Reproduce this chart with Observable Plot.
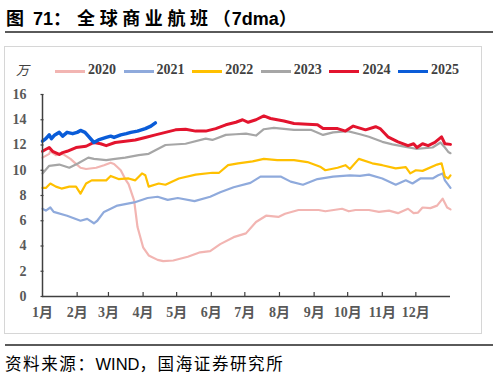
<!DOCTYPE html>
<html>
<head>
<meta charset="utf-8">
<script src="https://cdn.jsdelivr.net/npm/d3@7"></script>
<script src="https://cdn.jsdelivr.net/npm/@observablehq/plot@0.6"></script>
<style>
  body { margin: 0; background: #fff; }
  #page { position: relative; width: 498px; height: 375px; background: #fff; overflow: hidden; }
  .abs { position: absolute; }
  .legtxt { font-family: "Liberation Serif", "Noto Sans CJK SC", serif; font-weight: bold; font-size: 14px; color: #404040; }
  .t-cjk { letter-spacing: 4.6px; }
  .t-lat { letter-spacing: 0; }
  .s-cjk { letter-spacing: 1.6px; }
</style>
</head>
<body>
<div id="page">
  <div class="abs" style="left:6px;top:4px;font-family:'Liberation Sans','Noto Sans CJK SC',sans-serif;font-weight:bold;font-size:18px;color:#000;white-space:nowrap;"><span style="letter-spacing:2px">图 </span><span class="t-lat">71</span><span style="letter-spacing:6px">：</span><span class="t-cjk">全球商业航班</span><span style="letter-spacing:1px">（</span><span class="t-lat">7dma</span><span>）</span></div>
  <div class="abs" style="left:5px;top:31px;width:488px;height:2px;background:#5a5a5a;"></div>
  <div class="abs" style="left:4px;top:46px;width:478px;height:288px;border:1px solid #d6d6d6;box-sizing:border-box;"></div>
  <div id="chart" class="abs" style="left:0;top:46px;"></div>
  <div id="legend"></div>
  <div class="abs" style="left:16px;top:60px;font-family:'Liberation Serif','Noto Sans CJK SC',serif;font-style:italic;font-size:13px;color:#404040;">万</div>
  <div class="abs" style="left:5px;top:344px;width:488px;height:2px;background:#5a5a5a;"></div>
  <div class="abs" style="left:5px;top:351px;font-family:'Liberation Sans','Noto Sans CJK SC',sans-serif;font-size:16.5px;color:#000;white-space:nowrap;"><span class="s-cjk">资料来源：</span><span>WIND</span><span class="s-cjk">，国海证券研究所</span></div>
</div>
<script>
// ---- data (day of year, value in 万 flights) ----
const years = ["2020", "2021", "2022", "2023", "2024", "2025"];
const colors = ["#F2B5B2", "#8FAADC", "#FFC000", "#A6A6A6", "#E3142E", "#0A5CD8"];
const widths = [2.2, 2.2, 2.2, 2.2, 3, 3.5];

const day2020 = [0,6,7,12,18,25,30,34,39,48,55,61,64,70,74,77,82,85,90,95,103,108,117,130,141,150,159,171,182,191,200,211,217,229,247,253,268,274,280,292,301,310,318,327,332,336,340,347,353,358,362,365];
const val2020 = [11.0,11.3,11.5,11.2,11.3,10.9,10.5,10.2,10.1,10.2,10.4,10.6,10.5,10.0,9.3,8.9,7.6,5.5,3.9,3.25,2.9,2.8,2.85,3.15,3.5,3.6,4.15,4.7,5.0,5.9,6.4,6.3,6.55,6.85,6.85,6.75,6.95,6.75,6.85,6.85,6.7,6.8,6.6,6.95,6.6,6.65,7.05,7.0,7.2,7.75,7.05,6.9];

const day2021 = [0,3,7,10,22,34,40,46,49,55,67,82,94,103,112,121,136,150,159,171,186,195,213,222,233,246,260,275,284,292,304,316,325,331,338,349,354,358,360,365];
const val2021 = [6.95,6.8,7.05,6.7,6.4,6.0,6.15,5.8,6.0,6.7,7.2,7.45,7.8,7.9,7.65,7.8,7.55,7.9,8.25,8.65,9.0,9.5,9.5,9.1,8.85,9.3,9.5,9.6,9.55,9.65,9.35,8.85,9.2,8.95,9.35,9.35,9.6,9.75,9.2,8.6];

const day2022 = [0,3,7,12,17,24,30,34,39,44,57,61,68,77,83,89,92,95,104,110,122,137,152,158,166,175,188,198,210,225,237,249,253,264,271,275,283,295,304,316,325,329,334,340,353,357,360,363,365];
const val2022 = [8.6,8.6,8.95,8.7,8.55,8.7,8.7,8.15,8.95,9.2,9.2,9.55,9.3,9.35,9.2,9.75,9.6,8.7,8.95,8.85,9.35,9.65,9.8,9.8,10.4,10.55,10.7,10.9,10.8,10.8,10.65,10.25,10.0,10.2,10.4,10.1,10.9,10.55,10.4,10.15,10.25,9.75,10.0,9.95,10.45,10.55,9.5,9.35,9.6];

const day2023 = [0,6,15,24,32,41,46,57,65,74,86,95,110,128,146,152,164,173,182,191,198,207,225,240,251,260,273,284,292,304,313,325,334,349,356,360,363,365];
const val2023 = [9.75,10.35,10.45,10.2,10.55,11.0,10.9,10.8,10.9,11.0,11.2,11.3,12.0,12.1,12.5,12.4,12.8,12.85,12.9,12.75,13.25,13.35,13.2,13.2,12.8,13.0,13.1,12.85,12.65,12.25,12.05,11.85,11.7,11.8,12.2,11.8,11.45,11.35];

const day2024 = [0,6,9,15,18,22,30,39,46,52,57,65,74,83,92,101,110,119,128,137,146,155,164,173,179,184,191,198,204,216,225,237,246,251,264,271,278,289,298,302,309,318,327,332,335,340,345,351,357,360,365];
const val2024 = [11.5,11.8,11.5,11.25,11.4,11.5,11.8,11.9,12.2,12.1,11.95,12.2,12.3,12.4,12.6,12.8,13.0,13.2,13.25,13.1,13.1,13.3,13.6,13.8,14.0,13.8,14.0,14.3,14.1,13.9,13.7,13.65,13.6,13.3,13.3,13.1,13.5,13.2,13.45,13.3,12.65,12.25,11.95,12.1,11.8,12.1,11.95,12.2,12.65,12.1,12.05];

const day2025 = [0,3,6,8,11,15,18,22,27,31,34,38,41,46,50,57,61,64,70,75,79,85,92,97,101];
const val2025 = [12.3,12.5,12.8,12.5,12.8,13.0,12.7,13.0,12.9,13.0,13.15,13.0,12.7,12.2,12.4,12.6,12.7,12.6,12.8,12.9,13.0,13.1,13.3,13.5,13.75];

const monthStarts = [0,31,59,90,120,151,181,212,243,273,304,334];
const monthLabels = ["1月","2月","3月","4月","5月","6月","7月","8月","9月","10月","11月","12月"];
const yTicks = [0,2,4,6,8,10,12,14,16];

const dayArrays = [day2020, day2021, day2022, day2023, day2024, day2025];
const valArrays = [val2020, val2021, val2022, val2023, val2024, val2025];

const series = years.map((y, i) => dayArrays[i].map((d, j) => ({year: y, day: d, v: valArrays[i][j]})));

const W = 498, H = 288, mL = 42, mR = 48, mT = 48, mB = 38;
const frameW = W - mL - mR, frameH = H - mT - mB;

const chart = Plot.plot({
  width: W,
  height: H,
  marginLeft: mL,
  marginRight: mR,
  marginTop: mT,
  marginBottom: mB,
  style: {fontFamily: "'Liberation Serif','Noto Sans CJK SC',serif", fontSize: "14px", color: "#595959", background: "transparent", overflow: "visible"},
  x: {type: "linear", domain: [0, 365]},
  y: {domain: [0, 16]},
  marks: [
    Plot.axisY(yTicks, {tickSize: 0, tickPadding: 16, label: null, fontWeight: "bold"}),
    Plot.axisX(monthStarts, {tickSize: 0, tickPadding: 11, label: null, fontWeight: "bold", tickFormat: (d) => monthLabels[monthStarts.indexOf(d)]}),
    ...series.map((s, i) => Plot.line(s, {x: "day", y: "v", stroke: colors[i], strokeWidth: widths[i], strokeLinejoin: "round", strokeLinecap: "round"})),
    Plot.ruleY([0], {stroke: "#404040", strokeWidth: 1.5}),
    Plot.ruleX([0], {stroke: "#404040", strokeWidth: 1.5}),
    Plot.tickY(yTicks, {y: (d) => d, insetRight: frameW - 3, dx: -1.5, stroke: "#404040", strokeWidth: 1.2}),
    Plot.tickX(monthStarts.slice(1), {x: (d) => d, insetTop: frameH - 4, stroke: "#404040", strokeWidth: 1.2})
  ]
});
document.getElementById("chart").appendChild(chart);

// legend
const legend = document.getElementById("legend");
years.forEach((y, i) => {
  const left = 55 + i * 68.6;
  const sw = document.createElement("div");
  sw.className = "abs";
  sw.style.cssText = `left:${left}px;top:${71.5 - widths[i] / 2}px;width:30px;height:${widths[i]}px;background:${colors[i]};`;
  legend.appendChild(sw);
  const t = document.createElement("div");
  t.className = "abs legtxt";
  t.style.cssText = `left:${left + 33}px;top:62px;`;
  t.textContent = y;
  legend.appendChild(t);
});
</script>
</body>
</html>
